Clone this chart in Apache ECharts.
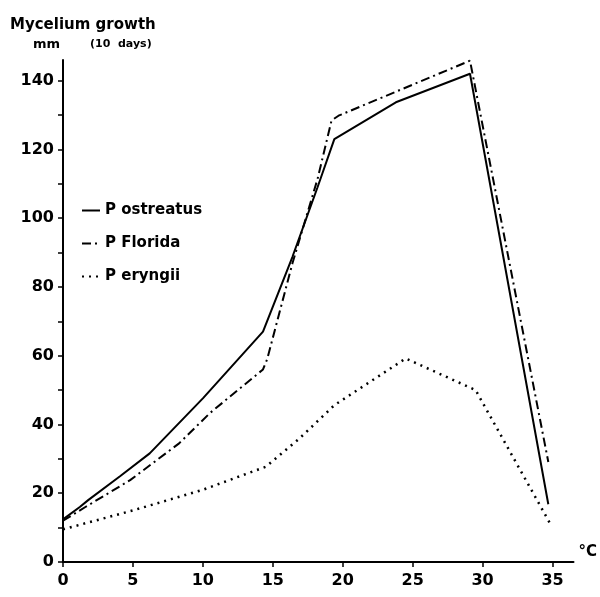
<!DOCTYPE html>
<html>
<head>
<meta charset="utf-8">
<script src="https://cdn.jsdelivr.net/npm/echarts@6/dist/echarts.min.js"></script>
<style>html,body{margin:0;padding:0;background:#fff}#c{width:600px;height:597px}</style>
</head>
<body>
<div id="c"></div>
<script>
var seriesNames = ['P ostreatus', 'P Florida', 'P eryngii'];
var xTicks = [0, 5, 10, 15, 20, 25, 30, 35];
var yTicks = [0, 10, 20, 30, 40, 50, 60, 70, 80, 90, 100, 110, 120, 130, 140];
var yLabels = [0, 20, 40, 60, 80, 100, 120, 140];
var ostreatus = [[0,12.4],[1.2,16],[1.8,18],[4.1,25],[6.2,31.6],[10,47.6],[14.3,67],[16.4,88.7],[18.2,109],[19.4,123],[23.8,133.7],[29.1,142],[34.7,16.8]];
var florida = [[0,12],[1.6,16],[4.8,23.8],[8.3,34.5],[10.5,43.3],[14.3,56],[14.6,59],[16.4,86.8],[18.2,111.4],[19.2,128.4],[19.7,129.8],[29.1,145.8],[34.7,29.1]];
var eryngii = [[0,9.5],[5,15],[10,21],[14.5,27.7],[16.9,35.9],[19.4,45.6],[24.5,59.2],[29.5,50],[34.8,11.4]];

var font = 'DejaVu Sans';
var chart = echarts.init(document.getElementById('c'), null, {renderer: 'canvas'});
chart.setOption({
  animation: false,
  backgroundColor: '#fff',
  grid: {left: 63, top: 60, width: 512, height: 502, containLabel: false},
  graphic: [
    {type: 'text', left: 10, top: 18, style: {text: 'Mycelium growth', font: 'bold 15px "DejaVu Sans"', fill: '#000'}},
    {type: 'text', left: 33, top: 38, style: {text: 'mm', font: 'bold 13px "DejaVu Sans"', fill: '#000'}},
    {type: 'text', left: 90, top: 39, style: {text: '(10  days)', font: 'bold 11px "DejaVu Sans"', fill: '#000'}}
  ],
  legend: {
    orient: 'vertical', left: 76, top: 198, itemGap: 18, itemWidth: 18, itemHeight: 14,
    itemStyle: {opacity: 0},
    textStyle: {fontFamily: font, fontSize: 15, fontWeight: 'bold', color: '#000'},
    data: seriesNames
  },
  xAxis: {
    type: 'value', min: 0, max: 36.5, interval: 5,
    name: '°C', nameLocation: 'end', nameGap: 5,
    nameTextStyle: {fontFamily: font, fontSize: 15, fontWeight: 'bold', color: '#000', verticalAlign: 'bottom', padding: [0, 0, 2, 0]},
    axisLine: {show: true, lineStyle: {color: '#000', width: 2}},
    axisTick: {show: true, length: 5, lineStyle: {color: '#000', width: 1.5}, customValues: xTicks},
    axisLabel: {customValues: xTicks, margin: 11, fontFamily: font, fontSize: 16, fontWeight: 'bold', color: '#000'},
    splitLine: {show: false}
  },
  yAxis: {
    type: 'value', min: 0, max: 146, interval: 10,
    axisLine: {show: true, lineStyle: {color: '#000', width: 2}},
    axisTick: {show: true, length: 5, lineStyle: {color: '#000', width: 1.5}, customValues: yTicks},
    axisLabel: {customValues: yLabels, margin: 9, fontFamily: font, fontSize: 16, fontWeight: 'bold', color: '#000'},
    splitLine: {show: false}
  },
  series: [
    {name: seriesNames[0], type: 'line', data: ostreatus, symbol: 'none', color: '#000',
     lineStyle: {color: '#000', width: 2, type: 'solid'}},
    {name: seriesNames[1], type: 'line', data: florida, symbol: 'none', color: '#000',
     lineStyle: {color: '#000', width: 2, type: [9, 4, 2, 4]}},
    {name: seriesNames[2], type: 'line', data: eryngii, symbol: 'none', color: '#000',
     lineStyle: {color: '#000', width: 2.5, type: [2, 5]}}
  ]
});
</script>
</body>
</html>
